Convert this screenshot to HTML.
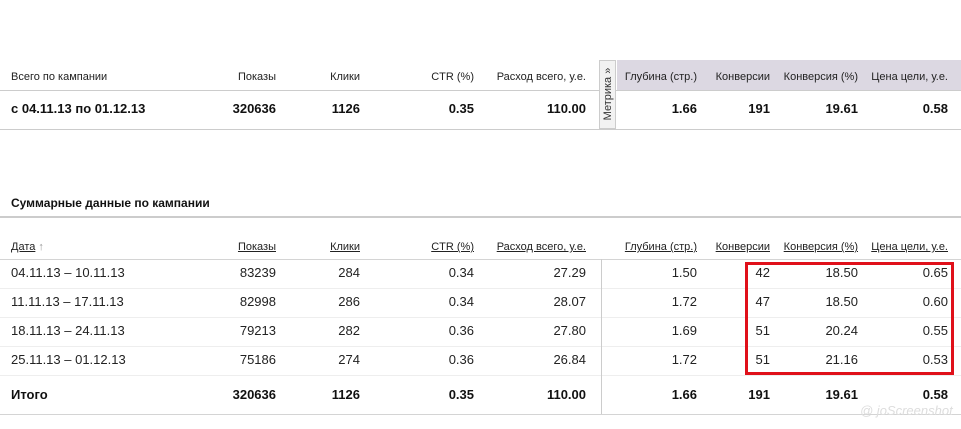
<!DOCTYPE html>
<html><head><meta charset="utf-8"><style>
body{margin:0;width:961px;height:429px;background:#fff;font-family:"Liberation Sans",Arial,sans-serif;color:#111;position:relative;overflow:hidden}
.t{position:absolute;white-space:nowrap;line-height:14px}
.r{text-align:right}
.h{font-size:11px;color:#222}
.u{text-decoration:underline}
.b{font-weight:bold;font-size:13px}
.n{font-size:13px;color:#222}
.l{position:absolute;height:1px;background:#d4d4d4}
</style></head><body>
<div style="position:absolute;left:617px;top:60px;width:344px;height:30px;background:#dcd8e2"></div>
<div class="l" style="left:0;top:90px;width:961px;background:#ccc"></div>
<div class="l" style="left:0;top:129px;width:961px;background:#ccc"></div>
<div style="position:absolute;left:599px;top:60px;width:17px;height:69px;background:#f2f2f2;border:1px solid #ccc;box-sizing:border-box"></div>
<div class="t" style="left:563px;top:87px;width:90px;transform:rotate(-90deg);font-size:11px;color:#333;text-align:center">Метрика »</div>

<div id="top"></div>
<div class="l" style="left:0;top:216px;width:961px;height:2px;background:#ccc"></div>
<div class="l" style="left:0;top:259px;width:961px"></div>
<div class="l" style="left:0;top:288px;width:961px;background:#eee"></div>
<div class="l" style="left:0;top:317px;width:961px;background:#eee"></div>
<div class="l" style="left:0;top:346px;width:961px;background:#eee"></div>
<div class="l" style="left:0;top:375px;width:961px;background:#eee"></div>
<div class="l" style="left:0;top:414px;width:961px"></div>
<div style="position:absolute;left:601px;top:259px;width:1px;height:155px;background:#ccc"></div>
<div style="position:absolute;left:745px;top:262px;width:209px;height:113px;border:3px solid #e0101a;box-sizing:border-box"></div>

<div class="t b" style="left:11px;top:196px;font-size:12px">Суммарные данные по кампании</div>
<script>
var cols=[276,360,474,586,697,770,858,948];
function row(y,cells,cls,first){
 var s='<div class="t '+cls+'" style="left:11px;top:'+y+'px">'+first+'</div>';
 cells.forEach(function(c,i){s+='<div class="t r '+cls+'" style="left:'+(cols[i]-150)+'px;width:150px;top:'+y+'px">'+c+'</div>';});
 document.write(s);
}
row(70,['Показы','Клики','CTR (%)','Расход всего, у.е.','Глубина (стр.)','Конверсии','Конверсия (%)','Цена цели, у.е.'],'h','Всего по кампании');
row(102,['320636','1126','0.35','110.00','1.66','191','19.61','0.58'],'b','с 04.11.13 по 01.12.13');
row(240,['Показы','Клики','CTR (%)','Расход всего, у.е.','Глубина (стр.)','Конверсии','Конверсия (%)','Цена цели, у.е.'].map(function(x){return '<span class="u">'+x+'</span>'}),'h','<span class="u">Дата</span> <span style="color:#999">↑</span>');
row(266,['83239','284','0.34','27.29','1.50','42','18.50','0.65'],'n','04.11.13 – 10.11.13');
row(295,['82998','286','0.34','28.07','1.72','47','18.50','0.60'],'n','11.11.13 – 17.11.13');
row(324,['79213','282','0.36','27.80','1.69','51','20.24','0.55'],'n','18.11.13 – 24.11.13');
row(353,['75186','274','0.36','26.84','1.72','51','21.16','0.53'],'n','25.11.13 – 01.12.13');
row(388,['320636','1126','0.35','110.00','1.66','191','19.61','0.58'],'b','Итого');
</script>
<div class="t" style="left:860px;top:404px;font-size:13px;font-style:italic;color:#ddd">@ joScreenshot</div>
</body></html>
